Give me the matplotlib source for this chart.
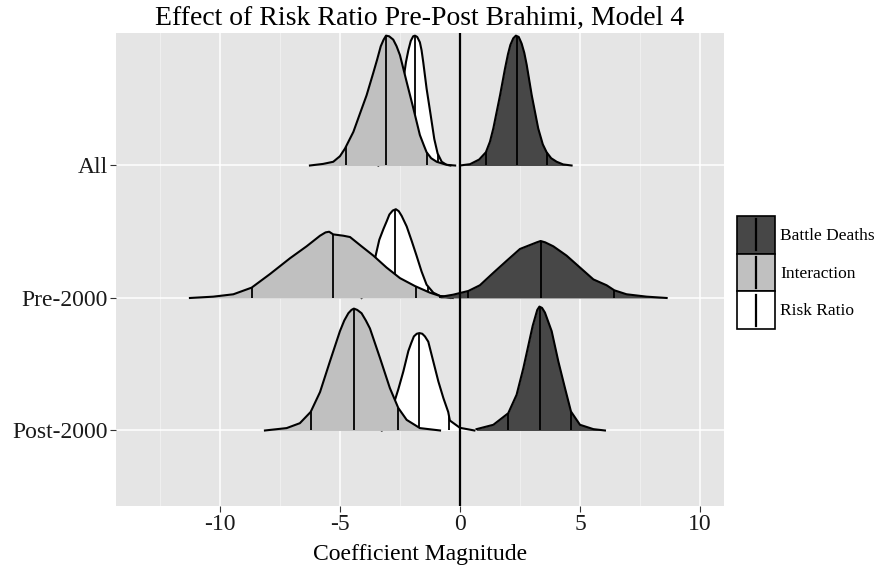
import numpy as np
import matplotlib.pyplot as plt
from matplotlib.patches import Patch, Rectangle
from matplotlib.lines import Line2D
from matplotlib.legend_handler import HandlerBase

plt.rcParams['font.family'] = ['Liberation Serif', 'DejaVu Serif']

rows = ['Post-2000', 'Pre-2000', 'All']
series = ['Risk Ratio', 'Interaction', 'Battle Deaths']
fills = {'Battle Deaths': '#474747', 'Interaction': '#C0C0C0', 'Risk Ratio': '#FFFFFF'}

# ridge outlines: x = coefficient, h = height in row units
all_rr_x = [-3.4, -3.1, -2.78, -2.5, -2.33, -2.25, -2.15, -2.05, -1.95, -1.875, -1.78, -1.67, -1.6, -1.53,
            -1.39, -1.22, -1.07, -0.93, -0.76, -0.56, -0.4]
all_rr_h = [0, 0.03, 0.2, 0.53, 0.68, 0.78, 0.87, 0.94, 0.975, 0.98, 0.97, 0.93, 0.87, 0.78,
            0.58, 0.38, 0.2, 0.09, 0.028, 0.005, 0]
all_int_x = [-6.25, -5.7, -5.28, -5.0, -4.79, -4.44, -4.15, -3.89, -3.61, -3.45, -3.3, -3.18, -3.08, -2.95,
             -2.78, -2.64, -2.5, -2.22, -1.94, -1.67, -1.5, -1.39, -1.2, -0.97, -0.56, -0.2]
all_int_h = [0, 0.012, 0.028, 0.07, 0.128, 0.254, 0.40, 0.53, 0.70, 0.80, 0.90, 0.95, 0.98, 0.975,
             0.95, 0.90, 0.833, 0.63, 0.43, 0.23, 0.15, 0.10, 0.055, 0.028, 0.005, 0]
all_bd_x = [0.0, 0.42, 0.8, 1.08, 1.25, 1.39, 1.67, 1.875, 2.0, 2.1, 2.22, 2.33, 2.45, 2.57, 2.68, 2.78,
            2.99, 3.26, 3.45, 3.61, 3.8, 4.03, 4.3, 4.65]
all_bd_h = [0, 0.01, 0.045, 0.10, 0.18, 0.28, 0.53, 0.73, 0.84, 0.91, 0.96, 0.98, 0.97, 0.92, 0.85, 0.76,
            0.53, 0.28, 0.16, 0.10, 0.055, 0.028, 0.008, 0]

pre_rr_x = [-4.1, -3.89, -3.68, -3.5, -3.36, -3.19, -3.05, -2.94, -2.8, -2.67, -2.55, -2.43, -2.22, -2.01,
            -1.81, -1.6, -1.39, -1.11, -0.83, -0.4]
pre_rr_h = [0, 0.03, 0.17, 0.33, 0.44, 0.52, 0.58, 0.63, 0.66, 0.67, 0.655, 0.62, 0.54, 0.43,
            0.32, 0.2, 0.1, 0.04, 0.015, 0]
pre_int_x = [-11.25, -10.28, -9.44, -8.68, -7.92, -7.08, -6.39, -5.83, -5.6, -5.45, -5.28, -4.86, -4.58, -4.1,
             -3.61, -3.06, -2.5, -1.875, -1.25, -0.83, -0.3]
pre_int_h = [0, 0.01, 0.028, 0.078, 0.18, 0.30, 0.39, 0.47, 0.495, 0.50, 0.48, 0.47, 0.46, 0.39,
             0.32, 0.23, 0.15, 0.09, 0.04, 0.015, 0]
pre_bd_x = [-0.83, -0.28, 0.35, 0.83, 1.39, 1.94, 2.5, 2.99, 3.2, 3.36, 3.55, 3.89, 4.44, 5.0, 5.56, 6.11,
            6.43, 6.94, 7.78, 8.61]
pre_bd_h = [0.008, 0.025, 0.053, 0.096, 0.19, 0.28, 0.37, 0.405, 0.42, 0.43, 0.42, 0.39, 0.32, 0.23, 0.14, 0.096,
            0.058, 0.028, 0.01, 0]

post_rr_x = [-3.26, -2.99, -2.75, -2.57, -2.36, -2.15, -2.03, -1.92, -1.8, -1.69, -1.57, -1.46, -1.32, -1.11,
             -0.9, -0.69, -0.49, -0.42, 0.0, 0.6]
post_rr_h = [0, 0.093, 0.206, 0.31, 0.445, 0.60, 0.66, 0.71, 0.73, 0.735, 0.73, 0.71, 0.67, 0.52,
             0.37, 0.244, 0.14, 0.075, 0.02, 0]
post_int_x = [-8.125, -7.22, -6.67, -6.22, -5.83, -5.42, -5.0, -4.82, -4.65, -4.52, -4.42, -4.28, -4.1, -3.92,
              -3.75, -3.33, -2.92, -2.57, -2.22, -1.67, -0.83]
post_int_h = [0, 0.018, 0.055, 0.14, 0.29, 0.52, 0.75, 0.83, 0.885, 0.91, 0.92, 0.91, 0.885, 0.83,
              0.77, 0.546, 0.32, 0.17, 0.08, 0.018, 0]
post_bd_x = [0.69, 1.39, 2.01, 2.36, 2.64, 2.92, 3.03, 3.125, 3.22, 3.31, 3.42, 3.54, 3.68, 3.82, 4.1, 4.375,
             4.625, 5.0, 5.56, 6.04]
post_bd_h = [0.01, 0.043, 0.13, 0.27, 0.47, 0.70, 0.79, 0.85, 0.91, 0.935, 0.925, 0.89, 0.82, 0.75, 0.52, 0.32,
             0.143, 0.043, 0.01, 0]

# 2.5%, 50%, 97.5% quantile lines
all_q = {'Risk Ratio': [-2.82, -1.875, -0.93], 'Interaction': [-4.76, -3.08, -1.39], 'Battle Deaths': [1.08, 2.36, 3.61]}
pre_q = {'Risk Ratio': [-4.06, -2.69, -1.32], 'Interaction': [-8.68, -5.28, -1.85], 'Battle Deaths': [0.35, 3.36, 6.43]}
post_q = {'Risk Ratio': [-2.92, -1.69, -0.46], 'Interaction': [-6.22, -4.40, -2.57], 'Battle Deaths': [2.01, 3.33, 4.625]}

curves = {
    'All': {'Risk Ratio': (all_rr_x, all_rr_h), 'Interaction': (all_int_x, all_int_h), 'Battle Deaths': (all_bd_x, all_bd_h)},
    'Pre-2000': {'Risk Ratio': (pre_rr_x, pre_rr_h), 'Interaction': (pre_int_x, pre_int_h), 'Battle Deaths': (pre_bd_x, pre_bd_h)},
    'Post-2000': {'Risk Ratio': (post_rr_x, post_rr_h), 'Interaction': (post_int_x, post_int_h), 'Battle Deaths': (post_bd_x, post_bd_h)},
}
quants = {'All': all_q, 'Pre-2000': pre_q, 'Post-2000': post_q}


# legend key: filled box with a vertical line in the middle
class KeyHandler(HandlerBase):
    def create_artists(self, legend, orig, xdescent, ydescent, width, height, fontsize, trans):
        x0, y0 = -xdescent, -ydescent
        box = Rectangle((x0, y0), width, height, facecolor=orig.get_facecolor(),
                        edgecolor='black', lw=1.2, transform=trans)
        xm = x0 + width / 2
        ln = Line2D([xm, xm], [y0 + 0.1 * height, y0 + 0.9 * height], color='black', lw=1.6, transform=trans)
        return [box, ln]


fig = plt.figure(figsize=(8.77, 5.73), dpi=100)
ax = fig.add_axes([116/877, 1 - 506/573, 608/877, 473/573])
ax.set_facecolor('#E5E5E5')

# top row first, lower rows on top of it
for r in ['All', 'Pre-2000', 'Post-2000']:
    y0 = rows.index(r) + 1
    zb = 3 + (2 - rows.index(r)) * 1.0
    for k, s in enumerate(series):
        x, h = curves[r][s]
        x = np.array(x); h = np.array(h)
        z = zb + k * 0.2
        ax.fill_between(x, y0, y0 + h, color=fills[s], lw=0, zorder=z)
        ax.plot(x, y0 + h, color='black', lw=1.5, zorder=z + 0.05, solid_joinstyle='round')
        q = np.array(quants[r][s])
        ax.vlines(q, y0, y0 + np.interp(q, x, h), color='black', lw=1.3, zorder=z + 0.05)

ax.axvline(0, color='black', lw=1.6, zorder=20)

ax.set_xlim(-14.33, 11.0)
ax.set_ylim(0.43, 4.0)
ax.set_xticks([-10, -5, 0, 5, 10])
ax.set_xticklabels(['-10', '-5', '0', '5', '10'])
ax.set_xticks([-12.5, -7.5, -2.5, 2.5, 7.5], minor=True)
ax.set_yticks([1, 2, 3])
ax.set_yticklabels(rows)
ax.grid(True, which='major', color='white', lw=1.1)
ax.grid(True, which='minor', axis='x', color='#F2F2F2', lw=0.6)
ax.set_axisbelow(True)
for sp in ax.spines.values():
    sp.set_visible(False)
ax.tick_params(which='major', length=4, width=0.8, color='#333333', labelsize=17, labelcolor='#1A1A1A', pad=2)
ax.tick_params(which='minor', length=0)

ax.set_xlabel('Coefficient Magnitude', fontsize=17, labelpad=6)
ax.set_title('Effect of Risk Ratio Pre-Post Brahimi, Model 4', fontsize=20, pad=6)

legend_names = ['Battle Deaths', 'Interaction', 'Risk Ratio']
handles = [Patch(facecolor=fills[s]) for s in legend_names]
fig.legend(handles, legend_names,
           handler_map={Patch: KeyHandler(xpad=0, ypad=0)},
           loc='center left', bbox_to_anchor=(737/877, 1 - 272.5/573),
           frameon=False, fontsize=12.5, handlelength=2.2, handleheight=2.98,
           labelspacing=0, handletextpad=0.28, borderpad=0, borderaxespad=0)

fig.savefig('out.png', dpi=100)
